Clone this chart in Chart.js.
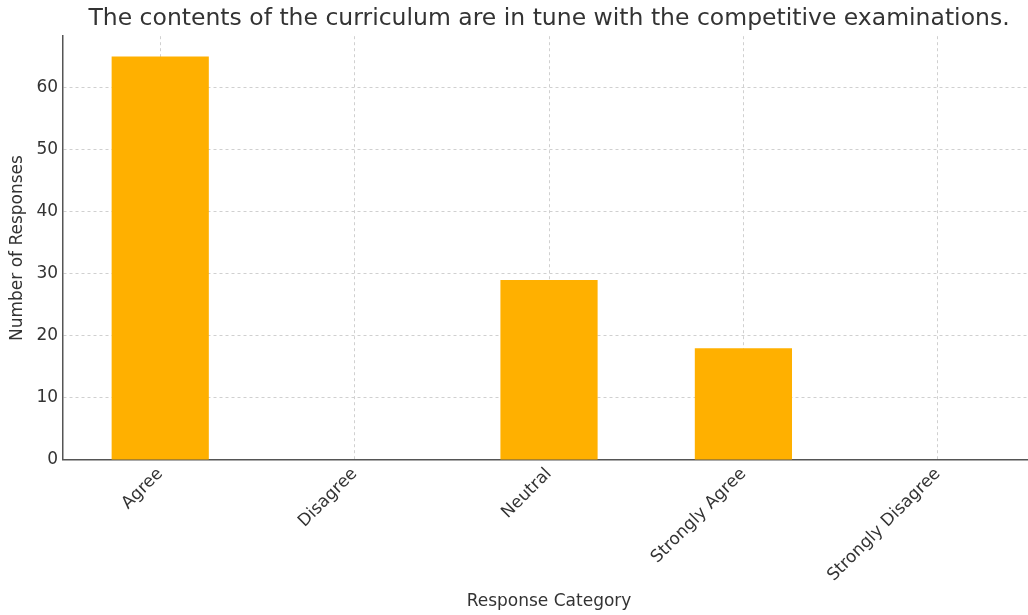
<!DOCTYPE html>
<html>
<head>
<meta charset="utf-8">
<script src="https://cdn.jsdelivr.net/npm/chart.js@4/dist/chart.umd.min.js"></script>
<style>
  html, body { margin: 0; padding: 0; background: #fff; overflow: hidden; }
  #wrap { width: 1036px; height: 615px; }
</style>
</head>
<body>
<div id="wrap"><canvas id="c" width="1036" height="615"></canvas></div>
<script>
// 資料
const categories = ['Agree', 'Disagree', 'Neutral', 'Strongly Agree', 'Strongly Disagree'];
const responses = [65, 0, 29, 18, 0];
const yTicks = [0, 10, 20, 30, 40, 50, 60];

const font = 'DejaVu Sans';
const textColor = '#333333';
const axisColor = '#555555';
const gridColor = '#d0d0d0';

let config = {
    type: 'bar',
    data: {
        labels: categories,
        datasets: [{
            label: 'Responses',
            data: responses,
            backgroundColor: 'rgb(255, 176, 0)',
            borderWidth: 0,
            barPercentage: 0.5,
            categoryPercentage: 1.0
        }]
    },
    options: {
        responsive: false,
        animation: false,
        layout: { padding: { left: 3, right: 1, bottom: 3 } },
        plugins: {
            legend: { display: false },
            tooltip: { enabled: false },
            title: {
                display: true,
                fullSize: false, // 標題置中於繪圖區
                text: 'The contents of the curriculum are in tune with the competitive examinations.',
                color: textColor,
                font: { family: font, size: 23.5, weight: 'normal' },
                padding: { top: 5, bottom: 3 }
            }
        },
        scales: {
            x: {
                offset: true,
                grid: {
                    display: true,
                    color: gridColor,
                    lineWidth: 1,
                    drawTicks: false,
                    offset: false
                },
                // border.dash 在 v4 是網格線的虛線
                border: { display: true, color: axisColor, width: 1.5, dash: [3, 3] },
                ticks: {
                    color: textColor,
                    font: { family: font, size: 17 },
                    maxRotation: 45,
                    minRotation: 45,
                    padding: 4
                },
                title: {
                    display: true,
                    text: 'Response Category',
                    color: textColor,
                    font: { family: font, size: 17 },
                    padding: { top: 2, bottom: 0 }
                }
            },
            y: {
                min: 0,
                max: 68.25,
                afterBuildTicks: function (axis) {
                    axis.ticks = yTicks.map(v => ({ value: v }));
                },
                grid: {
                    display: true,
                    color: gridColor,
                    lineWidth: 1,
                    drawTicks: false
                },
                border: { display: true, color: axisColor, width: 1.5, dash: [3, 3] },
                ticks: {
                    color: textColor,
                    font: { family: font, size: 17 },
                    padding: 5
                },
                title: {
                    display: true,
                    text: 'Number of Responses',
                    color: textColor,
                    font: { family: font, size: 17 },
                    padding: { top: 4, bottom: 4 }
                }
            }
        }
    }
};

// 創建圖表
let myCh = new Chart(document.getElementById('c'), config);
</script>
</body>
</html>
